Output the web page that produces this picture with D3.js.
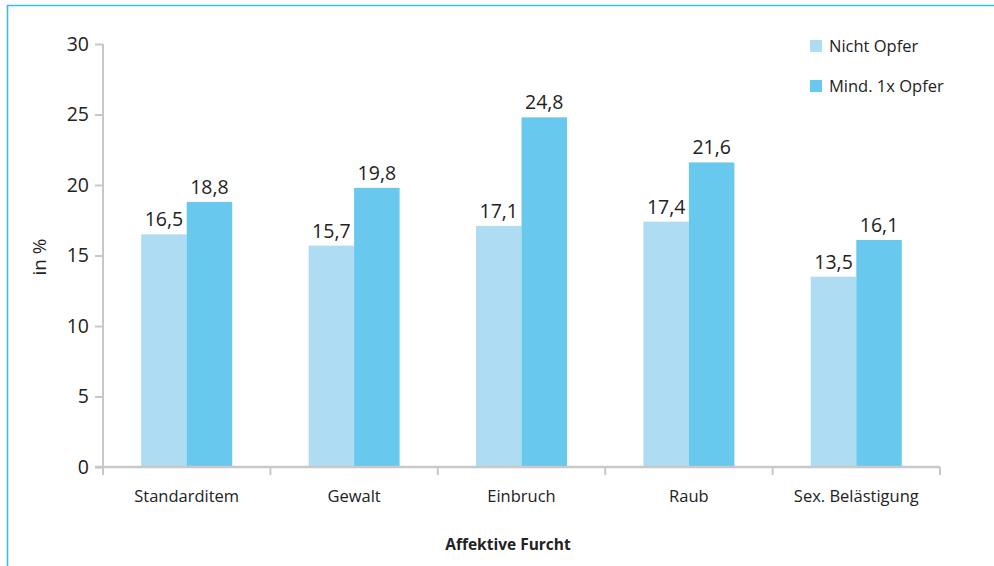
<!DOCTYPE html>
<html>
<head>
<meta charset="utf-8">
<script src="https://cdn.jsdelivr.net/npm/d3@7"></script>
<style>
  html, body { margin: 0; padding: 0; background: #fff; }
  svg { display: block; font-family: "Open Sans", "Noto Sans", sans-serif; }
</style>
</head>
<body>
<svg id="chart" width="994" height="566"></svg>
<script>
// Affektive Furcht nach Opferstatus (in %)
const categories = ["Standarditem", "Gewalt", "Einbruch", "Raub", "Sex. Belästigung"];
const seriesNames = ["Nicht Opfer", "Mind. 1x Opfer"];
const nichtOpfer = [16.5, 15.7, 17.1, 17.4, 13.5];
const mindOpfer = [18.8, 19.8, 24.8, 21.6, 16.1];
const yTicks = [0, 5, 10, 15, 20, 25, 30];
const colors = ["#aedcf2", "#68c8ee"];

const fmt = v => String(v.toFixed(1)).replace(".", ",");

const svg = d3.select("#chart");

// frame lines along the top and left edge
svg.append("line").attr("x1", 7.5).attr("x2", 994).attr("y1", 5.5).attr("y2", 5.5)
  .attr("stroke", "#3cbde3").attr("stroke-width", 1.6);
svg.append("line").attr("x1", 7.5).attr("x2", 7.5).attr("y1", 5).attr("y2", 566)
  .attr("stroke", "#3cbde3").attr("stroke-width", 1.6);

const plot = { left: 103, right: 940, top: 44, bottom: 467 };

const x0 = d3.scaleBand().domain(categories).range([plot.left, plot.right]).paddingInner(0).paddingOuter(0);
const x1 = d3.scaleBand().domain(seriesNames).range([0, 91]);
const y = d3.scaleLinear().domain([0, 30]).range([plot.bottom, plot.top]);

const rows = categories.map((c, i) => ({ cat: c, vals: [nichtOpfer[i], mindOpfer[i]] }));

const groups = svg.append("g").selectAll("g").data(rows).join("g")
  .attr("transform", d => `translate(${x0(d.cat) + x0.bandwidth() / 2 - 45.5},0)`);

groups.selectAll("rect").data(d => d.vals.map((v, k) => ({ v, k })))
  .join("rect")
  .attr("x", d => x1(seriesNames[d.k]))
  .attr("width", x1.bandwidth())
  .attr("y", d => y(d.v))
  .attr("height", d => y(0) - y(d.v))
  .attr("fill", d => colors[d.k]);

groups.selectAll("text").data(d => d.vals.map((v, k) => ({ v, k })))
  .join("text")
  .attr("x", d => x1(seriesNames[d.k]) + x1.bandwidth() / 2)
  .attr("y", d => y(d.v) - 8)
  .attr("text-anchor", "middle")
  .attr("font-size", 19.5)
  .attr("fill", "#222")
  .text(d => fmt(d.v));

// y axis
const yAxis = svg.append("g").attr("transform", `translate(${plot.left},0)`)
  .call(d3.axisLeft(y).tickValues(yTicks).tickSize(8).tickPadding(6).tickFormat(d => d));
yAxis.attr("font-family", null);
yAxis.select(".domain").attr("stroke", "#c8c8c8").attr("stroke-width", 2)
  .attr("d", `M0,${plot.top}V${plot.bottom}`);
yAxis.selectAll(".tick line").attr("stroke", "#c8c8c8").attr("stroke-width", 2);
yAxis.selectAll(".tick text").attr("font-size", 19.5).attr("fill", "#222");

// x axis with boundary ticks between categories
const xAxis = svg.append("g").attr("transform", `translate(0,${plot.bottom})`);
xAxis.append("line").attr("x1", plot.left - 8).attr("x2", plot.right)
  .attr("stroke", "#c8c8c8").attr("stroke-width", 2.5);
const bounds = categories.map(c => x0(c)).concat([plot.right]);
xAxis.selectAll(".bt").data(bounds).join("line").attr("class", "bt")
  .attr("x1", d => d).attr("x2", d => d).attr("y1", 0).attr("y2", 8)
  .attr("stroke", "#c8c8c8").attr("stroke-width", 2);
xAxis.selectAll(".cl").data(categories).join("text").attr("class", "cl")
  .attr("x", d => x0(d) + x0.bandwidth() / 2)
  .attr("y", 35)
  .attr("text-anchor", "middle")
  .attr("font-size", 16.5)
  .attr("fill", "#222")
  .text(d => d);

// axis titles
svg.append("text").attr("transform", "translate(46,257) rotate(-90)")
  .attr("text-anchor", "middle").attr("font-size", 19).attr("fill", "#222").text("in %");
svg.append("text").attr("x", 508).attr("y", 550)
  .attr("text-anchor", "middle").attr("font-size", 15.5).attr("font-weight", "bold")
  .attr("fill", "#222").text("Affektive Furcht");

// legend
const legend = svg.append("g").selectAll("g").data(seriesNames).join("g")
  .attr("transform", (d, i) => `translate(810,${40 + i * 40})`);
legend.append("rect").attr("width", 12).attr("height", 12).attr("fill", (d, i) => colors[i]);
legend.append("text").attr("x", 19).attr("y", 6).attr("dy", "0.35em")
  .attr("font-size", 16.5).attr("fill", "#222").text(d => d);
</script>
</body>
</html>
